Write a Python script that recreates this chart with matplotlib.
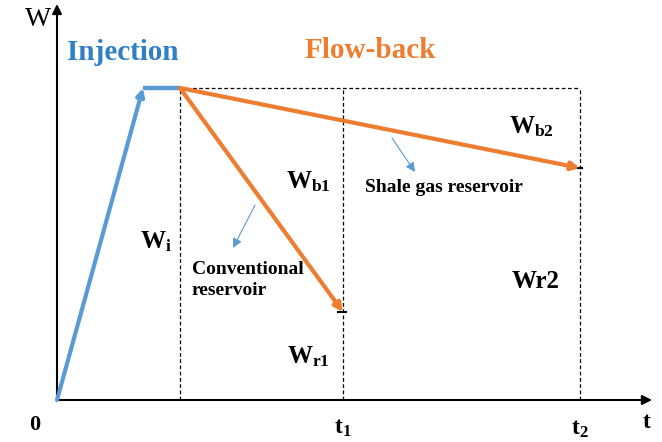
import matplotlib.pyplot as plt

plt.rcParams['font.family'] = 'Liberation Serif'
plt.rcParams['mathtext.fontset'] = 'custom'
plt.rcParams['mathtext.rm'] = 'Liberation Serif'
plt.rcParams['mathtext.bf'] = 'Liberation Serif:bold'
plt.rcParams['mathtext.it'] = 'Liberation Serif:italic'

# schematic values (time and water volume, arbitrary units)
t_inj = [0.0, 0.86]
w_inj = [0.0, 3.12]
t_plateau = [0.86, 1.23]
w_plateau = [3.12, 3.12]
t_start = 1.23
t1 = 2.86
t2 = 5.23
w_max = 3.12
w_r1 = 0.88
w_r2 = 2.32

blue = '#5b9bd5'
orange = '#ed7d31'

fig = plt.figure(figsize=(6.62, 4.42), dpi=100)
ax = fig.add_axes([57 / 662, 42 / 442, 605 / 662, 400 / 442])
ax.set_xlim(0, 6.05)
ax.set_ylim(0, 4.0)
ax.axis('off')

# axes with arrows
ax.annotate('', xy=(5.95, 0), xytext=(0, 0),
            arrowprops=dict(arrowstyle='-|>', color='black', lw=1.5, mutation_scale=14, shrinkA=0, shrinkB=0))
ax.annotate('', xy=(0, 3.96), xytext=(0, 0),
            arrowprops=dict(arrowstyle='-|>', color='black', lw=1.5, mutation_scale=14, shrinkA=0, shrinkB=0))

# dashed guide lines
dash = dict(color='black', lw=0.9, ls=(0, (3, 2)))
ax.plot([t_start, t2], [w_max, w_max], **dash)
for tx in [t_start, t1, t2]:
    ax.plot([tx, tx], [0, w_max], **dash)

# injection
ax.plot(t_plateau, w_plateau, color=blue, lw=3.2, solid_capstyle='butt')
ax.annotate('', xy=(t_inj[1], w_inj[1]), xytext=(t_inj[0], w_inj[0]),
            arrowprops=dict(arrowstyle='-|>', color=blue, lw=3, mutation_scale=11, shrinkA=0, shrinkB=0))

# flow-back lines
ax.annotate('', xy=(t1, w_r1), xytext=(t_start, w_max),
            arrowprops=dict(arrowstyle='-|>', color=orange, lw=3, mutation_scale=12, shrinkA=0, shrinkB=0))
ax.annotate('', xy=(t2, w_r2), xytext=(t_start, w_max),
            arrowprops=dict(arrowstyle='-|>', color=orange, lw=3, mutation_scale=12, shrinkA=0, shrinkB=0))
ax.plot([t1 - 0.05, t1 + 0.03], [w_r1, w_r1], color='black', lw=1.5)
ax.plot([t2 - 0.07, t2 + 0.02], [w_r2, w_r2], color='black', lw=1.5)

# small pointer arrows
ax.annotate('', xy=(1.76, 1.52), xytext=(1.98, 1.95),
            arrowprops=dict(arrowstyle='-|>', color=blue, lw=0.8, mutation_scale=14, shrinkA=0, shrinkB=0))
ax.annotate('', xy=(3.58, 2.28), xytext=(3.35, 2.62),
            arrowprops=dict(arrowstyle='-|>', color=blue, lw=0.8, mutation_scale=14, shrinkA=0, shrinkB=0))

# labels
ax.text(-0.19, 3.8, 'W', fontsize=20, ha='center', va='center')
ax.text(-0.22, -0.25, '0', fontsize=16, fontweight='bold', ha='center', va='center')
ax.text(5.9, -0.23, 't', fontsize=17, fontweight='bold', ha='center', va='center')
ax.text(t1, -0.28, r'$\mathbf{t}_\mathbf{1}$', fontsize=17, ha='center', va='center')
ax.text(t2, -0.29, r'$\mathbf{t}_\mathbf{2}$', fontsize=17, ha='center', va='center')

ax.text(0.66, 3.48, 'Injection', fontsize=21, fontweight='bold', color='#2f7fc6', ha='center', va='center')
ax.text(3.13, 3.5, 'Flow-back', fontsize=21, fontweight='bold', color=orange, ha='center', va='center')

ax.text(0.83, 1.58, r'$\mathbf{W}_\mathbf{i}$', fontsize=18, ha='left', va='center')
ax.text(2.29, 2.18, r'$\mathbf{W}_\mathbf{b1}$', fontsize=18, ha='left', va='center')
ax.text(4.52, 2.73, r'$\mathbf{W}_\mathbf{b2}$', fontsize=18, ha='left', va='center')
ax.text(2.3, 0.43, r'$\mathbf{W}_\mathbf{r1}$', fontsize=18, ha='left', va='center')
ax.text(4.55, 1.19, 'Wr2', fontsize=18, fontweight='bold', ha='left', va='center')

ax.text(1.35, 1.2, 'Conventional\nreservoir', fontsize=14, fontweight='bold',
        ha='left', va='center', linespacing=1.25)
ax.text(3.08, 2.12, 'Shale gas reservoir', fontsize=14, fontweight='bold', ha='left', va='center')

fig.savefig('out.png', dpi=100)
